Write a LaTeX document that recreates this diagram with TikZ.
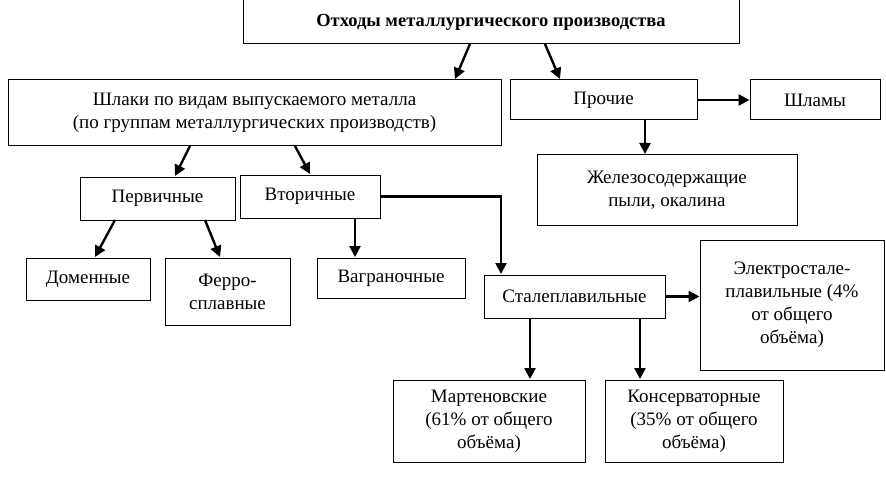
\documentclass[tikz,border=0pt]{standalone}
\usepackage{fontspec}
\setmainfont{Liberation Serif}
\usetikzlibrary{arrows.meta}
\tikzset{
  box/.style={draw, line width=1pt, align=center, inner sep=0pt},
  arr/.style={line width=2.4pt, -{Triangle[length=11pt,width=11pt]}},
}
\begin{document}
\begin{tikzpicture}[x=1pt, y=-1pt, font=\fontsize{19}{23}\selectfont]
\useasboundingbox (0,0) rectangle (886,484);

% verkhnii uroven
\node[box, minimum width=496pt, minimum height=44pt, font=\fontsize{18.5}{21}\selectfont\bfseries] (othody) at (491,22) {Отходы металлургического производства};
\node[box, minimum width=493pt, minimum height=66pt] (shlaki) at (254.5,113) {Шлаки по видам выпускаемого металла\\(по группам металлургических производств)};
\node[box, minimum width=187pt, minimum height=40pt] (prochie) at (603.5,100) {Прочие};
\node[box, minimum width=130pt, minimum height=40pt] (shlamy) at (815,100) {Шламы};
\node[box, minimum width=260pt, minimum height=70pt] (pyli) at (667,190) {Железосодержащие\\пыли, окалина};

% vtoroi uroven
\node[box, minimum width=155pt, minimum height=43pt] (perv) at (157.5,198.5) {Первичные};
\node[box, minimum width=140pt, minimum height=43pt] (vtor) at (310,196.5) {Вторичные};
\node[box, minimum width=124pt, minimum height=42pt] (domen) at (88,279) {Доменные};
\node[box, minimum width=125pt, minimum height=67pt] (ferro) at (227.5,291.5) {Ферро-\\сплавные};
\node[box, minimum width=148pt, minimum height=40pt] (vagr) at (391,278) {Ваграночные};
\node[box, minimum width=181pt, minimum height=43pt] (stal) at (574.5,296.5) {Сталеплавильные};
\node[box, minimum width=184pt, minimum height=130pt] (elek) at (792,305) {Электростале-\\плавильные (4\%\\от общего\\объёма)};
\node[box, minimum width=192pt, minimum height=82pt] (mart) at (489,421) {Мартеновские\\(61\% от общего\\объёма)};
\node[box, minimum width=178pt, minimum height=82pt] (kons) at (694,421) {Консерваторные\\(35\% от общего\\объёма)};

% strelki
\draw[arr] (470,44) -- (455,79);
\draw[arr] (545,44) -- (560,79);
\draw[arr] (190,146) -- (175,176);
\draw[arr] (295,146) -- (310,174);
\draw[arr] (prochie.east) -- (shlamy.west);
\draw[arr] (645,120) -- (645,154);
\draw[arr] (115,220) -- (95,257);
\draw[arr] (205,220) -- (220,257);
\draw[arr] (355,218) -- (355,257);
\draw[arr] (vtor.east) -- (501,196.5) -- (501,274);
\draw[arr] (stal.east) -- (elek.west |- stal.east);
\draw[arr] (530,318) -- (530,379);
\draw[arr] (640,318) -- (640,379);
\end{tikzpicture}
\end{document}
